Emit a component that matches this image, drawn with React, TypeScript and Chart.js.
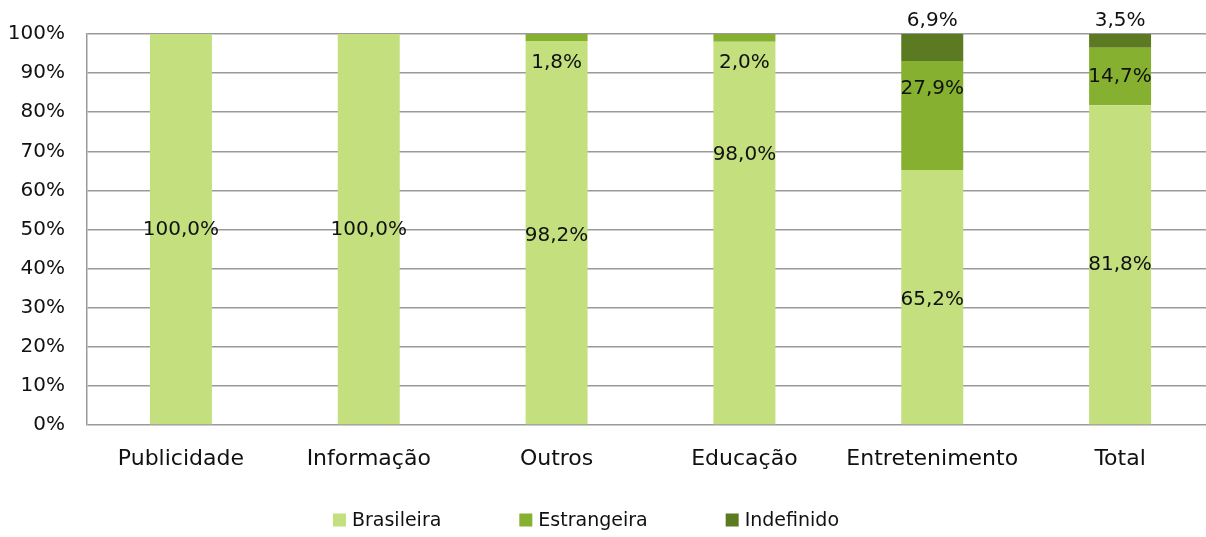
import React, { useEffect, useRef } from "react";
import { Chart, registerables } from "chart.js";

Chart.register(...registerables);

const categories = ["Publicidade", "Informação", "Outros", "Educação", "Entretenimento", "Total"];
const brasileira = [100.0, 100.0, 98.2, 98.0, 65.2, 81.8];
const estrangeira = [0, 0, 1.8, 2.0, 27.9, 14.7];
const indefinido = [0, 0, 0, 0, 6.9, 3.5];
const yTicks = [0, 10, 20, 30, 40, 50, 60, 70, 80, 90, 100];

// value-axis anchors (in %) where each data label is centred, as placed in the original
const brasileiraLabelAt = [50, 50, 48.5, 69, 32, 40.9];
const estrangeiraLabelAt = [0, 0, 92.6, 92.6, 86, 89];
const indefinidoLabelAt = [0, 0, 0, 0, 103.3, 103.3];

const FONT = "'DejaVu Sans', sans-serif";

const labelPlugin = {
  id: "segLabels",
  afterDatasetsDraw(chart: any) {
    const ctx = chart.ctx;
    const y = chart.scales.y;
    ctx.save();
    ctx.font = `20px ${FONT}`;
    ctx.fillStyle = "#111";
    ctx.textAlign = "center";
    ctx.textBaseline = "middle";
    chart.data.datasets.forEach((ds: any, di: number) => {
      const meta = chart.getDatasetMeta(di);
      ds.data.forEach((v: number, i: number) => {
        if (!v) return;
        const bar = meta.data[i];
        const py = y.getPixelForValue(ds.labelAt[i]);
        ctx.fillText(v.toFixed(1).replace(".", ",") + "%", bar.x, py);
      });
    });
    ctx.restore();
  },
};

const legendPlugin = {
  id: "customLegend",
  afterDraw(chart: any) {
    const ctx = chart.ctx;
    ctx.save();
    ctx.font = `19px ${FONT}`;
    ctx.textBaseline = "middle";
    ctx.textAlign = "left";
    const box = 13;
    const gapText = 6;
    const gapItem = 78;
    const items = chart.data.datasets.map((d: any) => ({
      label: d.label,
      color: d.backgroundColor,
      w: box + gapText + ctx.measureText(d.label).width,
    }));
    const total = items.reduce((s: number, it: any) => s + it.w, 0) + gapItem * (items.length - 1);
    const cx = 586;
    const cy = 520;
    let x = cx - total / 2;
    items.forEach((it: any) => {
      ctx.fillStyle = it.color;
      ctx.fillRect(x, cy - box / 2, box, box);
      ctx.fillStyle = "#111";
      ctx.fillText(it.label, x + box + gapText, cy + 1);
      x += it.w + gapItem;
    });
    ctx.restore();
  },
};

export default function App() {
  const ref = useRef<HTMLCanvasElement>(null);
  useEffect(() => {
    if (!ref.current) return;
    const chart = new Chart(ref.current, {
      type: "bar",
      data: {
        labels: categories,
        datasets: [
          { label: "Brasileira", data: brasileira, backgroundColor: "#C3DF7E", labelAt: brasileiraLabelAt } as any,
          { label: "Estrangeira", data: estrangeira, backgroundColor: "#86B030", labelAt: estrangeiraLabelAt } as any,
          { label: "Indefinido", data: indefinido, backgroundColor: "#5B7A21", labelAt: indefinidoLabelAt } as any,
        ],
      },
      options: {
        responsive: false,
        animation: false,
        devicePixelRatio: 1,
        layout: { padding: { top: 34, right: 16, bottom: 52, left: 0 } },
        datasets: { bar: { categoryPercentage: 1, barPercentage: 0.33 } },
        plugins: { legend: { display: false }, tooltip: { enabled: false } },
        scales: {
          x: {
            stacked: true,
            grid: { display: false, drawTicks: false },
            border: { display: false },
            ticks: { font: { family: FONT, size: 22 }, color: "#111", padding: 21 },
            afterFit: (s: any) => { s.height = 60; },
          },
          y: {
            stacked: true,
            min: 0,
            max: 100,
            afterBuildTicks: (s: any) => { s.ticks = yTicks.map((v) => ({ value: v })); },
            grid: { color: "#9a9a9a", lineWidth: 1.5, drawTicks: false },
            border: { display: true, color: "#9a9a9a", width: 1.5 },
            ticks: {
              font: { family: FONT, size: 20 },
              color: "#111",
              padding: 22,
              callback: (v: any) => v + "%",
            },
            afterFit: (s: any) => { s.width = 87; },
          },
        },
      } as any,
      plugins: [labelPlugin, legendPlugin],
    });
    return () => chart.destroy();
  }, []);
  return (
    <div style={{ position: "absolute", left: 0, top: 0, width: 1206, height: 537, overflow: "hidden", background: "#fff" }}>
      <canvas ref={ref} width={1230} height={537} style={{ display: "block" }} />
    </div>
  );
}
